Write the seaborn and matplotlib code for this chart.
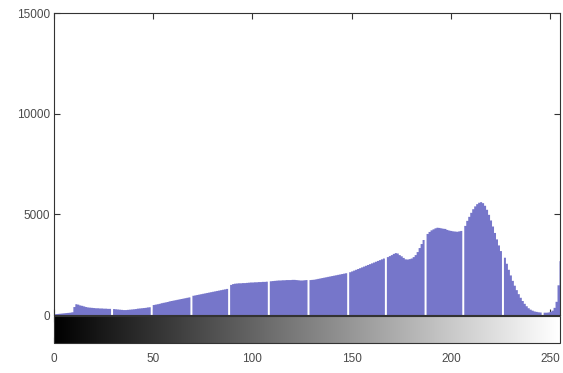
import numpy as np
import pandas as pd
import matplotlib
matplotlib.use("Agg")
import matplotlib.pyplot as plt
import seaborn as sns
from matplotlib import cm, colors

# ---- data ----
levels = list(range(256))
counts = (
    [60, 70, 80, 90, 100, 110, 120, 130, 140, 160]
    + [420, 560, 540, 500, 480, 450, 420, 400, 390, 380, 370, 360, 360, 350, 350, 340, 340, 330, 330, 0]
    + [320, 310, 300, 290, 280, 270, 270, 280, 290, 300, 310, 320, 340, 350, 360, 370, 380, 400, 410, 0]
    + [520, 540, 560, 580, 610, 630, 650, 670, 700, 720, 740, 760, 780, 800, 820, 840, 860, 880, 900, 0]
    + [980, 1000, 1020, 1040, 1060, 1080, 1100, 1120, 1140, 1160, 1180, 1200, 1220, 1240, 1260, 1280, 1300, 1320, 0]
    + [1520, 1560, 1580, 1590, 1600, 1600, 1610, 1610, 1620, 1630, 1640, 1640, 1650, 1650, 1660, 1660, 1670, 1670, 1680, 0]
    + [1700, 1710, 1720, 1730, 1740, 1740, 1750, 1750, 1760, 1760, 1760, 1770, 1770, 1760, 1750, 1740, 1740, 1750, 1760, 0]
    + [1760, 1770, 1780, 1800, 1820, 1840, 1860, 1880, 1900, 1920, 1940, 1960, 1980, 2000, 2020, 2040, 2060, 2080, 2100, 0]
    + [2150, 2190, 2230, 2270, 2310, 2350, 2390, 2430, 2470, 2510, 2550, 2590, 2630, 2670, 2710, 2750, 2790, 2830, 0]
    + [2900, 2950, 3000, 3060, 3100, 3080, 3000, 2940, 2860, 2790, 2780, 2800, 2830, 2900, 3000, 3150, 3350, 3550, 3750, 0]
    + [4050, 4150, 4230, 4280, 4330, 4360, 4350, 4330, 4310, 4300, 4250, 4220, 4200, 4180, 4170, 4160, 4180, 4200, 0]
    + [4450, 4700, 4900, 5100, 5280, 5420, 5530, 5600, 5630, 5580, 5450, 5250, 5000, 4720, 4420, 4100, 3780, 3480, 3200, 0]
    + [2870, 2570, 2270, 1990, 1720, 1480, 1260, 1060, 880, 720, 580, 460, 360, 290, 240, 200, 180, 160, 150, 0,
       140, 140, 150, 180, 240, 380, 680, 1500, 2700]
)
x_ticks = [0, 50, 100, 150, 200, 250]
y_ticks = [0, 5000, 10000, 15000]
y_ticklabels = ["0", "5000", "10000", "15000"]

bar_color = "#7676ca"
text_color = "#4a4a4a"

sns.set_style("ticks")
plt.rcParams["font.family"] = ["Liberation Sans", "DejaVu Sans"]
fsize = 8.5

fig = plt.figure(figsize=(5.63, 3.73), dpi=100)
W, H = 563, 373
ax = fig.add_axes([54 / W, 1 - 315 / H, 506 / W, 302 / H])
cax = fig.add_axes([54 / W, 1 - 343 / H, 506 / W, 27 / H])

df = pd.DataFrame({"level": levels, "count": counts})
sns.histplot(data=df, x="level", weights="count", discrete=True,
             element="step", fill=True,
             color=bar_color, alpha=1, linewidth=0, ax=ax)

ax.set_xlim(0, 255)
ax.set_ylim(0, 15000)
ax.set_xlabel("")
ax.set_ylabel("")
ax.set_xticks(x_ticks)
ax.set_yticks(y_ticks)
ax.set_yticklabels(y_ticklabels)
ax.tick_params(direction="in", top=True, right=True, bottom=True, left=True,
               labelbottom=False, length=4, width=0.8, color="#333333",
               labelsize=fsize, labelcolor=text_color, pad=3)
for s in ax.spines.values():
    s.set_visible(True)
    s.set_color("#333333")
    s.set_linewidth(0.8)

sm = cm.ScalarMappable(norm=colors.Normalize(0, 255), cmap="gray")
cb = fig.colorbar(sm, cax=cax, orientation="horizontal")
cb.set_ticks(x_ticks)
cb.set_ticklabels([str(t) for t in x_ticks])
cb.outline.set_linewidth(0.8)
cb.outline.set_edgecolor("#333333")
cax.tick_params(direction="in", top=True, bottom=True, length=4, width=0.8,
                color="#333333", labelsize=fsize, labelcolor=text_color, pad=7)

fig.savefig("out.png", dpi=100)
